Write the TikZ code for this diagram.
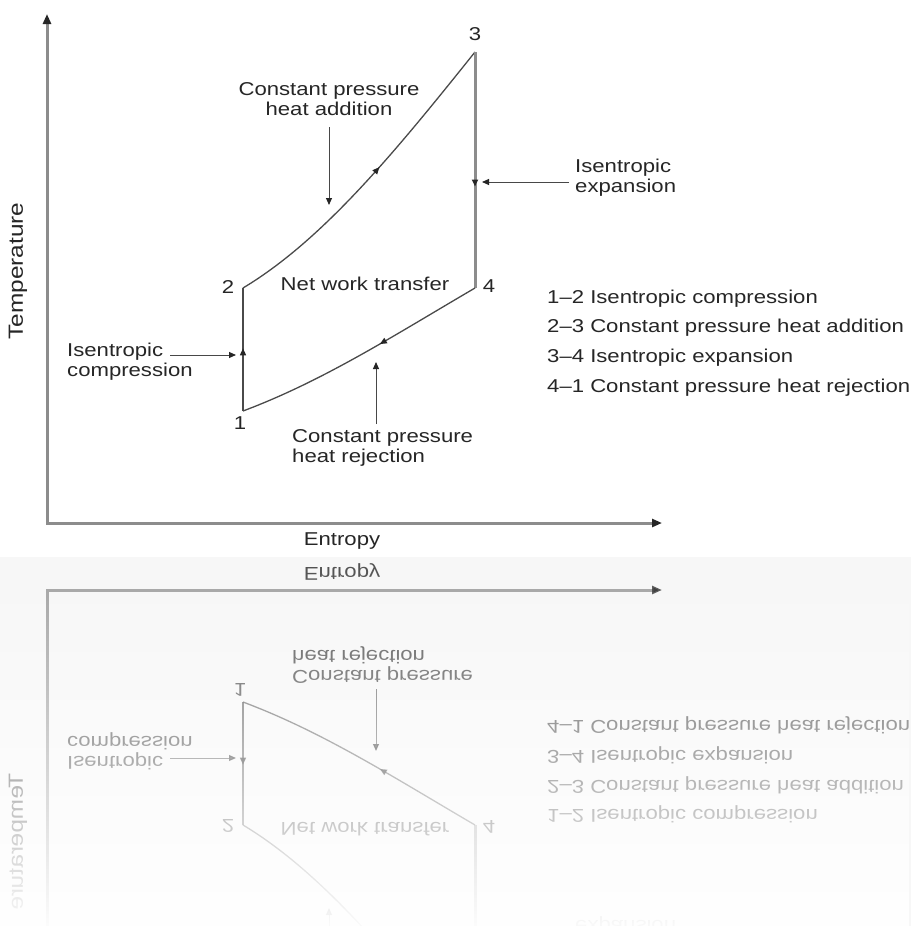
\documentclass[tikz,border=0pt]{standalone}
\usepackage{fontspec}
\setmainfont{Liberation Sans}[FakeStretch=1.19]
\usetikzlibrary{arrows.meta,decorations.markings,fadings}

\definecolor{ink}{HTML}{262626}
\definecolor{axisgray}{HTML}{8C8C8C}
\definecolor{linegray}{HTML}{4A4A4A}

% white veil that thickens towards the bottom of the mirrored copy
\tikzfading[name=reflectfade, top color=transparent!100, bottom color=transparent!3]

\tikzset{
  lbl/.style={text=ink, font=\fontsize{18.6}{20}\selectfont, inner sep=0pt},
  axisline/.style={draw=axisgray, line width=3pt},
  cycleline/.style={draw=linegray, line width=1.3pt},
  thickline/.style={draw=axisgray, line width=3pt},
  pointer/.style={draw=ink!85, line width=1pt, -{Triangle[length=7pt,width=6pt,color=ink]}},
  midarrow/.style={postaction={decorate}, decoration={markings,
      mark=at position #1 with {\arrow{Triangle[length=7pt,width=6pt,color=ink]}}}},
}

% the T-s diagram of the Brayton cycle
\newcommand\tsdiagram{%
  % axes
  \coordinate (org) at (47,523);
  \coordinate (ytop) at (47,14);
  \coordinate (xend) at (662,523);
  \draw[axisline, {Triangle[length=10pt,width=8pt,color=ink]}-{Triangle[length=10pt,width=8pt,color=ink]}]
    (ytop) -- (org) -- (xend);
  \node[lbl] (sx) at (342,541) {Entropy};
  \node[lbl, rotate=90, font=\fontsize{20.5}{22}\selectfont] (ty) at (18,271) {Temperature};
  % state points
  \coordinate (p1) at (243,411);
  \coordinate (p2) at (243,288);
  \coordinate (p3) at (475,52);
  \coordinate (p4) at (475,288);
  % processes
  \draw[cycleline, midarrow=0.51] (p1) -- (p2);
  \draw[cycleline, midarrow=0.55] (p2) .. controls (323,240) and (395,152) .. (p3);
  \draw[thickline, midarrow=0.57] (p3) -- (p4);
  \draw[cycleline, midarrow=0.42] (p4) .. controls (393,336) and (323,381) .. (p1);
  % point labels
  \node[lbl] (n1) at (240,423) {1};
  \node[lbl] (n2) at (228,287) {2};
  \node[lbl] (n3) at (475,34) {3};
  \node[lbl] (n4) at (489,286) {4};
  \node[lbl] (net) at (365,284) {Net work transfer};
  % process labels with pointers
  \node[lbl, align=center] (hadd) at (329,99) {Constant pressure\\heat addition};
  \coordinate (haddstart) at (329,127);
  \coordinate (haddtip) at (329,205);
  \draw[pointer] (haddstart) -- (haddtip);
  \node[lbl, align=left, anchor=west] (iexp) at (575,178) {Isentropic\\expansion};
  \coordinate (iexpstart) at (569,182);
  \coordinate (iexptip) at (482,182);
  \draw[pointer] (iexpstart) -- (iexptip);
  \node[lbl, align=left, anchor=west] (icomp) at (67,362) {Isentropic\\compression};
  \coordinate (icompstart) at (170,355);
  \coordinate (icomptip) at (236,355);
  \draw[pointer] (icompstart) -- (icomptip);
  \node[lbl, align=left, anchor=west] (hrej) at (292,448) {Constant pressure\\heat rejection};
  \coordinate (hrejstart) at (376,424);
  \coordinate (hrejtip) at (376,362);
  \draw[pointer] (hrejstart) -- (hrejtip);
  % legend
  \node[lbl, align=left, anchor=west, font=\fontsize{18.6}{29.7}\selectfont] (legend) at (547,343)
    {1--2 Isentropic compression\\2--3 Constant pressure heat addition\\
     3--4 Isentropic expansion\\4--1 Constant pressure heat rejection};
}

\begin{document}
\begin{tikzpicture}[x=1pt, y=-1pt]
  \useasboundingbox (0,0) rectangle (911,926);
  \fill[white] (0,0) rectangle (911,926);
  \tsdiagram
  % mirrored, fading copy below the axis
  \begin{scope}
    \clip (0,557) rectangle (911,926);
    \fill[black!3] (0,557) rectangle (911,926);
    \begin{scope}[cm={1,0,0,-1,(0pt,-1113pt)}, transform shape, opacity=0.8]
      \tsdiagram
    \end{scope}
    \fill[white, path fading=reflectfade] (0,557) rectangle (911,926);
  \end{scope}
\end{tikzpicture}
\end{document}
